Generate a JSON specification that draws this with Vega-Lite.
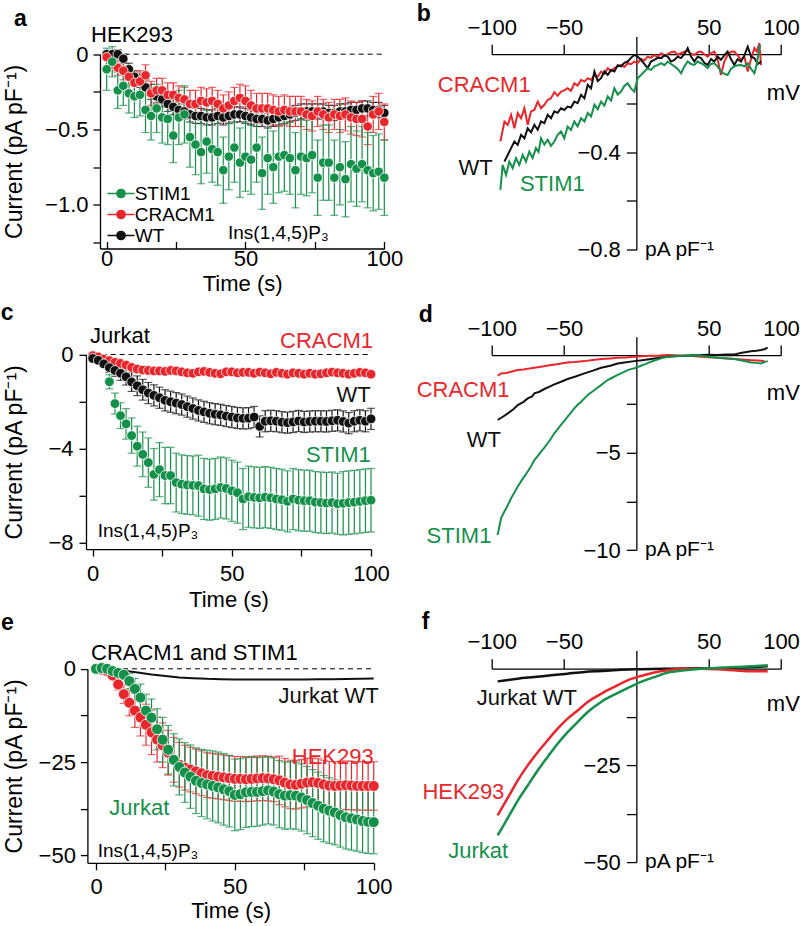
{
"$schema": "https://vega.github.io/schema/vega-lite/v6.json",
"background": "white",
"padding": {"left": 0, "top": 2.5, "right": 0, "bottom": 0},
"autosize": {"type": "pad"},
"bounds": "flush",
"align": "all",
"columns": 2,
"spacing": {"row": 74.3, "column": 106.7},
"resolve": {"scale": {"color": "independent"}, "legend": {"color": "independent"}},
"config": {
  "view": {"stroke": null},
  "font": "Liberation Sans",
  "axis": {"grid": false, "domainColor": "#000", "domainWidth": 1.3, "tickColor": "#000", "tickWidth": 1.3, "labelColor": "#000", "labelFont": "Liberation Sans", "labelFontSize": 22, "titleFont": "Liberation Sans", "titleFontSize": 22, "titleFontWeight": "normal", "titleColor": "#000", "labelFlush": false, "labelOverlap": false, "labelBound": false},
  "text": {"font": "Liberation Sans", "baseline": "alphabetic"}
},
"datasets": {
"a": [
{"s":"WT","t":0,"m":0.0,"e":0.02},{"s":"WT","t":2,"m":0.0,"e":0.02},{"s":"WT","t":4,"m":0.0,"e":0.03},{"s":"WT","t":6,"m":-0.03,"e":0.03},{"s":"WT","t":8,"m":-0.10,"e":0.04},{"s":"WT","t":10,"m":-0.15,"e":0.04},{"s":"WT","t":12,"m":-0.18,"e":0.04},{"s":"WT","t":14,"m":-0.22,"e":0.05},{"s":"WT","t":16,"m":-0.25,"e":0.05},{"s":"WT","t":18,"m":-0.28,"e":0.05},{"s":"WT","t":20,"m":-0.30,"e":0.05},{"s":"WT","t":22,"m":-0.33,"e":0.05},{"s":"WT","t":24,"m":-0.35,"e":0.05},{"s":"WT","t":26,"m":-0.37,"e":0.05},{"s":"WT","t":28,"m":-0.38,"e":0.05},{"s":"WT","t":30,"m":-0.40,"e":0.05},{"s":"WT","t":32,"m":-0.41,"e":0.05},{"s":"WT","t":34,"m":-0.41,"e":0.05},{"s":"WT","t":36,"m":-0.42,"e":0.05},{"s":"WT","t":38,"m":-0.42,"e":0.05},{"s":"WT","t":40,"m":-0.41,"e":0.05},{"s":"WT","t":42,"m":-0.42,"e":0.05},{"s":"WT","t":44,"m":-0.41,"e":0.05},{"s":"WT","t":46,"m":-0.40,"e":0.05},{"s":"WT","t":48,"m":-0.40,"e":0.05},{"s":"WT","t":50,"m":-0.41,"e":0.05},{"s":"WT","t":52,"m":-0.42,"e":0.05},{"s":"WT","t":54,"m":-0.43,"e":0.05},{"s":"WT","t":56,"m":-0.43,"e":0.05},{"s":"WT","t":58,"m":-0.44,"e":0.05},{"s":"WT","t":60,"m":-0.43,"e":0.05},{"s":"WT","t":62,"m":-0.42,"e":0.05},{"s":"WT","t":64,"m":-0.41,"e":0.05},{"s":"WT","t":66,"m":-0.40,"e":0.05},{"s":"WT","t":68,"m":-0.39,"e":0.05},{"s":"WT","t":70,"m":-0.38,"e":0.05},{"s":"WT","t":72,"m":-0.38,"e":0.05},{"s":"WT","t":74,"m":-0.38,"e":0.05},{"s":"WT","t":76,"m":-0.38,"e":0.05},{"s":"WT","t":78,"m":-0.38,"e":0.05},{"s":"WT","t":80,"m":-0.39,"e":0.05},{"s":"WT","t":82,"m":-0.39,"e":0.05},{"s":"WT","t":84,"m":-0.38,"e":0.05},{"s":"WT","t":86,"m":-0.38,"e":0.05},{"s":"WT","t":88,"m":-0.37,"e":0.05},{"s":"WT","t":90,"m":-0.37,"e":0.05},{"s":"WT","t":92,"m":-0.36,"e":0.05},{"s":"WT","t":94,"m":-0.36,"e":0.05},{"s":"WT","t":96,"m":-0.37,"e":0.05},{"s":"WT","t":98,"m":-0.37,"e":0.05},{"s":"WT","t":100,"m":-0.39,"e":0.05},
{"s":"CRACM1","t":0,"m":-0.02,"e":0.02},{"s":"CRACM1","t":2,"m":-0.07,"e":0.04},{"s":"CRACM1","t":4,"m":-0.09,"e":0.05},{"s":"CRACM1","t":6,"m":-0.11,"e":0.06},{"s":"CRACM1","t":8,"m":-0.15,"e":0.06},{"s":"CRACM1","t":10,"m":-0.19,"e":0.07},{"s":"CRACM1","t":12,"m":-0.18,"e":0.07},{"s":"CRACM1","t":14,"m":-0.14,"e":0.07},{"s":"CRACM1","t":16,"m":-0.26,"e":0.08},{"s":"CRACM1","t":18,"m":-0.24,"e":0.08},{"s":"CRACM1","t":20,"m":-0.24,"e":0.08},{"s":"CRACM1","t":22,"m":-0.27,"e":0.08},{"s":"CRACM1","t":24,"m":-0.27,"e":0.08},{"s":"CRACM1","t":26,"m":-0.29,"e":0.08},{"s":"CRACM1","t":28,"m":-0.30,"e":0.08},{"s":"CRACM1","t":30,"m":-0.33,"e":0.09},{"s":"CRACM1","t":32,"m":-0.33,"e":0.09},{"s":"CRACM1","t":34,"m":-0.31,"e":0.09},{"s":"CRACM1","t":36,"m":-0.32,"e":0.09},{"s":"CRACM1","t":38,"m":-0.31,"e":0.09},{"s":"CRACM1","t":40,"m":-0.33,"e":0.09},{"s":"CRACM1","t":42,"m":-0.36,"e":0.09},{"s":"CRACM1","t":44,"m":-0.34,"e":0.09},{"s":"CRACM1","t":46,"m":-0.31,"e":0.09},{"s":"CRACM1","t":48,"m":-0.29,"e":0.09},{"s":"CRACM1","t":50,"m":-0.31,"e":0.1},{"s":"CRACM1","t":52,"m":-0.34,"e":0.1},{"s":"CRACM1","t":54,"m":-0.36,"e":0.1},{"s":"CRACM1","t":56,"m":-0.36,"e":0.1},{"s":"CRACM1","t":58,"m":-0.36,"e":0.1},{"s":"CRACM1","t":60,"m":-0.37,"e":0.1},{"s":"CRACM1","t":62,"m":-0.38,"e":0.1},{"s":"CRACM1","t":64,"m":-0.37,"e":0.1},{"s":"CRACM1","t":66,"m":-0.38,"e":0.1},{"s":"CRACM1","t":68,"m":-0.38,"e":0.1},{"s":"CRACM1","t":70,"m":-0.38,"e":0.1},{"s":"CRACM1","t":72,"m":-0.40,"e":0.1},{"s":"CRACM1","t":74,"m":-0.41,"e":0.1},{"s":"CRACM1","t":76,"m":-0.38,"e":0.1},{"s":"CRACM1","t":78,"m":-0.40,"e":0.1},{"s":"CRACM1","t":80,"m":-0.42,"e":0.1},{"s":"CRACM1","t":82,"m":-0.40,"e":0.1},{"s":"CRACM1","t":84,"m":-0.41,"e":0.11},{"s":"CRACM1","t":86,"m":-0.40,"e":0.11},{"s":"CRACM1","t":88,"m":-0.42,"e":0.11},{"s":"CRACM1","t":90,"m":-0.43,"e":0.11},{"s":"CRACM1","t":92,"m":-0.43,"e":0.12},{"s":"CRACM1","t":94,"m":-0.48,"e":0.12},{"s":"CRACM1","t":96,"m":-0.40,"e":0.12},{"s":"CRACM1","t":98,"m":-0.38,"e":0.12},{"s":"CRACM1","t":100,"m":-0.45,"e":0.12},
{"s":"STIM1","t":0,"m":-0.10,"e":0.14},{"s":"STIM1","t":2,"m":-0.05,"e":0.10},{"s":"STIM1","t":4,"m":-0.24,"e":0.12},{"s":"STIM1","t":6,"m":-0.21,"e":0.13},{"s":"STIM1","t":8,"m":-0.26,"e":0.13},{"s":"STIM1","t":10,"m":-0.28,"e":0.14},{"s":"STIM1","t":12,"m":-0.27,"e":0.14},{"s":"STIM1","t":14,"m":-0.37,"e":0.15},{"s":"STIM1","t":16,"m":-0.41,"e":0.16},{"s":"STIM1","t":18,"m":-0.36,"e":0.16},{"s":"STIM1","t":20,"m":-0.42,"e":0.17},{"s":"STIM1","t":22,"m":-0.43,"e":0.17},{"s":"STIM1","t":24,"m":-0.54,"e":0.18},{"s":"STIM1","t":26,"m":-0.42,"e":0.18},{"s":"STIM1","t":28,"m":-0.40,"e":0.19},{"s":"STIM1","t":30,"m":-0.55,"e":0.2},{"s":"STIM1","t":32,"m":-0.60,"e":0.2},{"s":"STIM1","t":34,"m":-0.65,"e":0.21},{"s":"STIM1","t":36,"m":-0.58,"e":0.21},{"s":"STIM1","t":38,"m":-0.63,"e":0.22},{"s":"STIM1","t":40,"m":-0.65,"e":0.22},{"s":"STIM1","t":42,"m":-0.77,"e":0.22},{"s":"STIM1","t":44,"m":-0.68,"e":0.22},{"s":"STIM1","t":46,"m":-0.62,"e":0.23},{"s":"STIM1","t":48,"m":-0.72,"e":0.23},{"s":"STIM1","t":50,"m":-0.68,"e":0.23},{"s":"STIM1","t":52,"m":-0.70,"e":0.23},{"s":"STIM1","t":54,"m":-0.62,"e":0.23},{"s":"STIM1","t":56,"m":-0.79,"e":0.24},{"s":"STIM1","t":58,"m":-0.69,"e":0.24},{"s":"STIM1","t":60,"m":-0.75,"e":0.24},{"s":"STIM1","t":62,"m":-0.68,"e":0.24},{"s":"STIM1","t":64,"m":-0.67,"e":0.24},{"s":"STIM1","t":66,"m":-0.69,"e":0.24},{"s":"STIM1","t":68,"m":-0.77,"e":0.25},{"s":"STIM1","t":70,"m":-0.68,"e":0.25},{"s":"STIM1","t":72,"m":-0.69,"e":0.25},{"s":"STIM1","t":74,"m":-0.67,"e":0.25},{"s":"STIM1","t":76,"m":-0.82,"e":0.25},{"s":"STIM1","t":78,"m":-0.72,"e":0.25},{"s":"STIM1","t":80,"m":-0.72,"e":0.25},{"s":"STIM1","t":82,"m":-0.82,"e":0.25},{"s":"STIM1","t":84,"m":-0.75,"e":0.25},{"s":"STIM1","t":86,"m":-0.83,"e":0.25},{"s":"STIM1","t":88,"m":-0.73,"e":0.25},{"s":"STIM1","t":90,"m":-0.76,"e":0.25},{"s":"STIM1","t":92,"m":-0.73,"e":0.25},{"s":"STIM1","t":94,"m":-0.77,"e":0.25},{"s":"STIM1","t":96,"m":-0.79,"e":0.25},{"s":"STIM1","t":98,"m":-0.78,"e":0.25},{"s":"STIM1","t":100,"m":-0.82,"e":0.25}
],
"c": [
{"s":"STIM1","t":0,"m":-0.05,"e":0.05},{"s":"STIM1","t":2,"m":-0.10,"e":0.1},{"s":"STIM1","t":4,"m":-0.35,"e":0.15},{"s":"STIM1","t":6,"m":-1.16,"e":0.3},{"s":"STIM1","t":8,"m":-2.09,"e":0.45},{"s":"STIM1","t":10,"m":-2.60,"e":0.55},{"s":"STIM1","t":12,"m":-2.95,"e":0.65},{"s":"STIM1","t":14,"m":-3.45,"e":0.75},{"s":"STIM1","t":16,"m":-3.90,"e":0.85},{"s":"STIM1","t":18,"m":-4.25,"e":0.95},{"s":"STIM1","t":20,"m":-4.60,"e":1.05},{"s":"STIM1","t":22,"m":-5.10,"e":1.1},{"s":"STIM1","t":24,"m":-4.90,"e":1.15},{"s":"STIM1","t":26,"m":-5.15,"e":1.2},{"s":"STIM1","t":28,"m":-5.15,"e":1.2},{"s":"STIM1","t":30,"m":-5.45,"e":1.25},{"s":"STIM1","t":32,"m":-5.52,"e":1.25},{"s":"STIM1","t":34,"m":-5.55,"e":1.25},{"s":"STIM1","t":36,"m":-5.57,"e":1.25},{"s":"STIM1","t":38,"m":-5.58,"e":1.3},{"s":"STIM1","t":40,"m":-5.72,"e":1.3},{"s":"STIM1","t":42,"m":-5.75,"e":1.3},{"s":"STIM1","t":44,"m":-5.72,"e":1.3},{"s":"STIM1","t":46,"m":-5.66,"e":1.3},{"s":"STIM1","t":48,"m":-5.70,"e":1.3},{"s":"STIM1","t":50,"m":-5.80,"e":1.3},{"s":"STIM1","t":52,"m":-5.88,"e":1.3},{"s":"STIM1","t":54,"m":-6.15,"e":1.3},{"s":"STIM1","t":56,"m":-6.05,"e":1.3},{"s":"STIM1","t":58,"m":-6.08,"e":1.3},{"s":"STIM1","t":60,"m":-6.10,"e":1.3},{"s":"STIM1","t":62,"m":-6.07,"e":1.3},{"s":"STIM1","t":64,"m":-6.10,"e":1.3},{"s":"STIM1","t":66,"m":-6.15,"e":1.3},{"s":"STIM1","t":68,"m":-6.18,"e":1.3},{"s":"STIM1","t":70,"m":-6.25,"e":1.3},{"s":"STIM1","t":72,"m":-6.15,"e":1.3},{"s":"STIM1","t":74,"m":-6.20,"e":1.3},{"s":"STIM1","t":76,"m":-6.22,"e":1.3},{"s":"STIM1","t":78,"m":-6.22,"e":1.3},{"s":"STIM1","t":80,"m":-6.28,"e":1.3},{"s":"STIM1","t":82,"m":-6.30,"e":1.3},{"s":"STIM1","t":84,"m":-6.32,"e":1.3},{"s":"STIM1","t":86,"m":-6.30,"e":1.3},{"s":"STIM1","t":88,"m":-6.35,"e":1.3},{"s":"STIM1","t":90,"m":-6.33,"e":1.35},{"s":"STIM1","t":92,"m":-6.30,"e":1.35},{"s":"STIM1","t":94,"m":-6.28,"e":1.35},{"s":"STIM1","t":96,"m":-6.25,"e":1.35},{"s":"STIM1","t":98,"m":-6.22,"e":1.35},{"s":"STIM1","t":100,"m":-6.20,"e":1.35},
{"s":"CRACM1","t":0,"m":-0.05,"e":0.1},{"s":"CRACM1","t":2,"m":-0.10,"e":0.1},{"s":"CRACM1","t":4,"m":-0.20,"e":0.1},{"s":"CRACM1","t":6,"m":-0.26,"e":0.1},{"s":"CRACM1","t":8,"m":-0.33,"e":0.1},{"s":"CRACM1","t":10,"m":-0.38,"e":0.1},{"s":"CRACM1","t":12,"m":-0.45,"e":0.1},{"s":"CRACM1","t":14,"m":-0.55,"e":0.1},{"s":"CRACM1","t":16,"m":-0.62,"e":0.1},{"s":"CRACM1","t":18,"m":-0.66,"e":0.1},{"s":"CRACM1","t":20,"m":-0.68,"e":0.1},{"s":"CRACM1","t":22,"m":-0.70,"e":0.1},{"s":"CRACM1","t":24,"m":-0.70,"e":0.1},{"s":"CRACM1","t":26,"m":-0.72,"e":0.1},{"s":"CRACM1","t":28,"m":-0.68,"e":0.1},{"s":"CRACM1","t":30,"m":-0.70,"e":0.1},{"s":"CRACM1","t":32,"m":-0.74,"e":0.1},{"s":"CRACM1","t":34,"m":-0.78,"e":0.1},{"s":"CRACM1","t":36,"m":-0.80,"e":0.1},{"s":"CRACM1","t":38,"m":-0.74,"e":0.1},{"s":"CRACM1","t":40,"m":-0.72,"e":0.1},{"s":"CRACM1","t":42,"m":-0.76,"e":0.1},{"s":"CRACM1","t":44,"m":-0.80,"e":0.1},{"s":"CRACM1","t":46,"m":-0.82,"e":0.1},{"s":"CRACM1","t":48,"m":-0.74,"e":0.1},{"s":"CRACM1","t":50,"m":-0.74,"e":0.1},{"s":"CRACM1","t":52,"m":-0.78,"e":0.1},{"s":"CRACM1","t":54,"m":-0.76,"e":0.1},{"s":"CRACM1","t":56,"m":-0.76,"e":0.1},{"s":"CRACM1","t":58,"m":-0.80,"e":0.1},{"s":"CRACM1","t":60,"m":-0.75,"e":0.1},{"s":"CRACM1","t":62,"m":-0.78,"e":0.1},{"s":"CRACM1","t":64,"m":-0.82,"e":0.1},{"s":"CRACM1","t":66,"m":-0.76,"e":0.1},{"s":"CRACM1","t":68,"m":-0.80,"e":0.1},{"s":"CRACM1","t":70,"m":-0.84,"e":0.1},{"s":"CRACM1","t":72,"m":-0.78,"e":0.1},{"s":"CRACM1","t":74,"m":-0.80,"e":0.1},{"s":"CRACM1","t":76,"m":-0.84,"e":0.1},{"s":"CRACM1","t":78,"m":-0.80,"e":0.1},{"s":"CRACM1","t":80,"m":-0.84,"e":0.1},{"s":"CRACM1","t":82,"m":-0.82,"e":0.1},{"s":"CRACM1","t":84,"m":-0.78,"e":0.1},{"s":"CRACM1","t":86,"m":-0.75,"e":0.1},{"s":"CRACM1","t":88,"m":-0.78,"e":0.1},{"s":"CRACM1","t":90,"m":-0.80,"e":0.1},{"s":"CRACM1","t":92,"m":-0.84,"e":0.1},{"s":"CRACM1","t":94,"m":-0.80,"e":0.1},{"s":"CRACM1","t":96,"m":-0.76,"e":0.1},{"s":"CRACM1","t":98,"m":-0.78,"e":0.1},{"s":"CRACM1","t":100,"m":-0.84,"e":0.1},
{"s":"WT","t":0,"m":-0.17,"e":0.05},{"s":"WT","t":2,"m":-0.25,"e":0.1},{"s":"WT","t":4,"m":-0.40,"e":0.15},{"s":"WT","t":6,"m":-0.56,"e":0.2},{"s":"WT","t":8,"m":-0.68,"e":0.25},{"s":"WT","t":10,"m":-0.80,"e":0.3},{"s":"WT","t":12,"m":-0.95,"e":0.35},{"s":"WT","t":14,"m":-1.17,"e":0.4},{"s":"WT","t":16,"m":-1.33,"e":0.42},{"s":"WT","t":18,"m":-1.50,"e":0.44},{"s":"WT","t":20,"m":-1.64,"e":0.45},{"s":"WT","t":22,"m":-1.74,"e":0.45},{"s":"WT","t":24,"m":-1.84,"e":0.45},{"s":"WT","t":26,"m":-1.95,"e":0.45},{"s":"WT","t":28,"m":-2.01,"e":0.45},{"s":"WT","t":30,"m":-2.07,"e":0.45},{"s":"WT","t":32,"m":-2.13,"e":0.45},{"s":"WT","t":34,"m":-2.22,"e":0.45},{"s":"WT","t":36,"m":-2.30,"e":0.45},{"s":"WT","t":38,"m":-2.38,"e":0.45},{"s":"WT","t":40,"m":-2.44,"e":0.45},{"s":"WT","t":42,"m":-2.50,"e":0.45},{"s":"WT","t":44,"m":-2.54,"e":0.45},{"s":"WT","t":46,"m":-2.57,"e":0.45},{"s":"WT","t":48,"m":-2.62,"e":0.45},{"s":"WT","t":50,"m":-2.66,"e":0.45},{"s":"WT","t":52,"m":-2.70,"e":0.45},{"s":"WT","t":54,"m":-2.72,"e":0.45},{"s":"WT","t":56,"m":-2.71,"e":0.45},{"s":"WT","t":58,"m":-2.66,"e":0.45},{"s":"WT","t":60,"m":-3.06,"e":0.45},{"s":"WT","t":62,"m":-2.84,"e":0.45},{"s":"WT","t":64,"m":-2.82,"e":0.45},{"s":"WT","t":66,"m":-2.84,"e":0.45},{"s":"WT","t":68,"m":-2.88,"e":0.45},{"s":"WT","t":70,"m":-2.90,"e":0.45},{"s":"WT","t":72,"m":-2.87,"e":0.45},{"s":"WT","t":74,"m":-2.83,"e":0.45},{"s":"WT","t":76,"m":-2.87,"e":0.45},{"s":"WT","t":78,"m":-2.85,"e":0.45},{"s":"WT","t":80,"m":-2.84,"e":0.45},{"s":"WT","t":82,"m":-2.84,"e":0.45},{"s":"WT","t":84,"m":-2.85,"e":0.45},{"s":"WT","t":86,"m":-2.82,"e":0.45},{"s":"WT","t":88,"m":-2.80,"e":0.45},{"s":"WT","t":90,"m":-2.85,"e":0.45},{"s":"WT","t":92,"m":-2.92,"e":0.45},{"s":"WT","t":94,"m":-2.84,"e":0.45},{"s":"WT","t":96,"m":-2.80,"e":0.45},{"s":"WT","t":98,"m":-2.84,"e":0.45},{"s":"WT","t":100,"m":-2.74,"e":0.45}
],
"e": [
{"s":"HEK293","t":0,"m":-0.1,"e":0.3},{"s":"HEK293","t":2,"m":-0.2,"e":0.3},{"s":"HEK293","t":4,"m":-0.6,"e":0.4},{"s":"HEK293","t":6,"m":-1.8,"e":0.8},{"s":"HEK293","t":8,"m":-4.2,"e":1.5},{"s":"HEK293","t":10,"m":-6.8,"e":2.5},{"s":"HEK293","t":12,"m":-9.1,"e":3.5},{"s":"HEK293","t":14,"m":-11.2,"e":4.5},{"s":"HEK293","t":16,"m":-13.0,"e":5},{"s":"HEK293","t":18,"m":-15.0,"e":5.5},{"s":"HEK293","t":20,"m":-17.0,"e":6},{"s":"HEK293","t":22,"m":-19.0,"e":6},{"s":"HEK293","t":24,"m":-20.5,"e":6},{"s":"HEK293","t":26,"m":-22.5,"e":6},{"s":"HEK293","t":28,"m":-24.4,"e":6},{"s":"HEK293","t":30,"m":-25.7,"e":6},{"s":"HEK293","t":32,"m":-26.5,"e":6},{"s":"HEK293","t":34,"m":-27.0,"e":6},{"s":"HEK293","t":36,"m":-27.5,"e":6},{"s":"HEK293","t":38,"m":-28.0,"e":6},{"s":"HEK293","t":40,"m":-28.5,"e":6},{"s":"HEK293","t":42,"m":-28.7,"e":6},{"s":"HEK293","t":44,"m":-28.9,"e":6},{"s":"HEK293","t":46,"m":-29.1,"e":6},{"s":"HEK293","t":48,"m":-29.3,"e":6},{"s":"HEK293","t":50,"m":-29.5,"e":6},{"s":"HEK293","t":52,"m":-29.5,"e":6},{"s":"HEK293","t":54,"m":-29.6,"e":6},{"s":"HEK293","t":56,"m":-29.5,"e":6},{"s":"HEK293","t":58,"m":-29.4,"e":6},{"s":"HEK293","t":60,"m":-29.3,"e":6},{"s":"HEK293","t":62,"m":-29.4,"e":6},{"s":"HEK293","t":64,"m":-29.6,"e":6},{"s":"HEK293","t":66,"m":-29.9,"e":6.5},{"s":"HEK293","t":68,"m":-30.5,"e":6.5},{"s":"HEK293","t":70,"m":-31.0,"e":6.5},{"s":"HEK293","t":72,"m":-31.1,"e":6.5},{"s":"HEK293","t":74,"m":-30.8,"e":6.5},{"s":"HEK293","t":76,"m":-30.5,"e":6.5},{"s":"HEK293","t":78,"m":-30.4,"e":6.5},{"s":"HEK293","t":80,"m":-30.6,"e":6.5},{"s":"HEK293","t":82,"m":-31.0,"e":6.5},{"s":"HEK293","t":84,"m":-31.3,"e":6.5},{"s":"HEK293","t":86,"m":-31.4,"e":6.5},{"s":"HEK293","t":88,"m":-31.3,"e":6.5},{"s":"HEK293","t":90,"m":-31.2,"e":6.5},{"s":"HEK293","t":92,"m":-31.3,"e":6.5},{"s":"HEK293","t":94,"m":-31.4,"e":6.5},{"s":"HEK293","t":96,"m":-31.4,"e":6.5},{"s":"HEK293","t":98,"m":-31.4,"e":6.5},{"s":"HEK293","t":100,"m":-31.4,"e":6.5},
{"s":"Jurkat","t":0,"m":0.0,"e":0.3},{"s":"Jurkat","t":2,"m":0.2,"e":0.3},{"s":"Jurkat","t":4,"m":0.0,"e":0.4},{"s":"Jurkat","t":6,"m":-0.6,"e":0.6},{"s":"Jurkat","t":8,"m":-1.1,"e":0.8},{"s":"Jurkat","t":10,"m":-1.6,"e":1.2},{"s":"Jurkat","t":12,"m":-3.3,"e":2},{"s":"Jurkat","t":14,"m":-5.4,"e":2.8},{"s":"Jurkat","t":16,"m":-7.7,"e":3.6},{"s":"Jurkat","t":18,"m":-11.2,"e":4.4},{"s":"Jurkat","t":20,"m":-13.1,"e":5},{"s":"Jurkat","t":22,"m":-16.2,"e":5.5},{"s":"Jurkat","t":24,"m":-19.0,"e":6},{"s":"Jurkat","t":26,"m":-21.7,"e":6.5},{"s":"Jurkat","t":28,"m":-24.4,"e":7},{"s":"Jurkat","t":30,"m":-26.3,"e":7.5},{"s":"Jurkat","t":32,"m":-27.8,"e":8},{"s":"Jurkat","t":34,"m":-28.9,"e":8.5},{"s":"Jurkat","t":36,"m":-30.0,"e":8.8},{"s":"Jurkat","t":38,"m":-30.6,"e":9},{"s":"Jurkat","t":40,"m":-31.0,"e":9.2},{"s":"Jurkat","t":42,"m":-31.4,"e":9.4},{"s":"Jurkat","t":44,"m":-31.8,"e":9.5},{"s":"Jurkat","t":46,"m":-32.3,"e":9.6},{"s":"Jurkat","t":48,"m":-32.8,"e":9.6},{"s":"Jurkat","t":50,"m":-33.8,"e":9.6},{"s":"Jurkat","t":52,"m":-33.6,"e":9.5},{"s":"Jurkat","t":54,"m":-33.1,"e":9.4},{"s":"Jurkat","t":56,"m":-33.0,"e":9.3},{"s":"Jurkat","t":58,"m":-33.0,"e":9.2},{"s":"Jurkat","t":60,"m":-32.8,"e":9.1},{"s":"Jurkat","t":62,"m":-32.6,"e":9},{"s":"Jurkat","t":64,"m":-32.9,"e":9},{"s":"Jurkat","t":66,"m":-33.6,"e":9},{"s":"Jurkat","t":68,"m":-34.0,"e":9},{"s":"Jurkat","t":70,"m":-33.9,"e":9},{"s":"Jurkat","t":72,"m":-34.0,"e":9},{"s":"Jurkat","t":74,"m":-34.5,"e":9},{"s":"Jurkat","t":76,"m":-35.2,"e":9},{"s":"Jurkat","t":78,"m":-36.0,"e":9},{"s":"Jurkat","t":80,"m":-36.7,"e":9},{"s":"Jurkat","t":82,"m":-37.5,"e":8.9},{"s":"Jurkat","t":84,"m":-38.0,"e":8.8},{"s":"Jurkat","t":86,"m":-38.5,"e":8.7},{"s":"Jurkat","t":88,"m":-39.2,"e":8.6},{"s":"Jurkat","t":90,"m":-39.8,"e":8.5},{"s":"Jurkat","t":92,"m":-40.1,"e":8.5},{"s":"Jurkat","t":94,"m":-40.4,"e":8.5},{"s":"Jurkat","t":96,"m":-40.8,"e":8.5},{"s":"Jurkat","t":98,"m":-41.0,"e":8.5},{"s":"Jurkat","t":100,"m":-41.1,"e":8.5}
],
"eWT": [
{"s":"Jurkat WT","t":0,"m":0},{"s":"Jurkat WT","t":5,"m":-0.1},{"s":"Jurkat WT","t":10,"m":-0.5},{"s":"Jurkat WT","t":15,"m":-1.0},{"s":"Jurkat WT","t":20,"m":-1.5},{"s":"Jurkat WT","t":25,"m":-1.9},{"s":"Jurkat WT","t":30,"m":-2.3},{"s":"Jurkat WT","t":35,"m":-2.5},{"s":"Jurkat WT","t":40,"m":-2.7},{"s":"Jurkat WT","t":45,"m":-2.8},{"s":"Jurkat WT","t":50,"m":-2.9},{"s":"Jurkat WT","t":55,"m":-2.9},{"s":"Jurkat WT","t":60,"m":-2.9},{"s":"Jurkat WT","t":65,"m":-2.9},{"s":"Jurkat WT","t":70,"m":-2.9},{"s":"Jurkat WT","t":75,"m":-2.85},{"s":"Jurkat WT","t":80,"m":-2.8},{"s":"Jurkat WT","t":85,"m":-2.8},{"s":"Jurkat WT","t":90,"m":-2.75},{"s":"Jurkat WT","t":95,"m":-2.7},{"s":"Jurkat WT","t":100,"m":-2.6}
],
"b": [
{"s":"CRACM1","v":-94.0,"i":-0.357},{"s":"CRACM1","v":-91.2,"i":-0.275},{"s":"CRACM1","v":-88.9,"i":-0.289},{"s":"CRACM1","v":-86.6,"i":-0.248},{"s":"CRACM1","v":-84.3,"i":-0.303},{"s":"CRACM1","v":-82.0,"i":-0.241},{"s":"CRACM1","v":-79.7,"i":-0.262},{"s":"CRACM1","v":-77.4,"i":-0.221},{"s":"CRACM1","v":-75.1,"i":-0.289},{"s":"CRACM1","v":-72.8,"i":-0.234},{"s":"CRACM1","v":-70.5,"i":-0.228},{"s":"CRACM1","v":-68.2,"i":-0.194},{"s":"CRACM1","v":-65.9,"i":-0.221},{"s":"CRACM1","v":-63.6,"i":-0.207},{"s":"CRACM1","v":-61.3,"i":-0.187},{"s":"CRACM1","v":-59.0,"i":-0.180},{"s":"CRACM1","v":-56.7,"i":-0.155},{"s":"CRACM1","v":-54.4,"i":-0.170},{"s":"CRACM1","v":-52.1,"i":-0.153},{"s":"CRACM1","v":-49.8,"i":-0.148},{"s":"CRACM1","v":-47.5,"i":-0.139},{"s":"CRACM1","v":-45.2,"i":-0.150},{"s":"CRACM1","v":-42.9,"i":-0.119},{"s":"CRACM1","v":-40.6,"i":-0.128},{"s":"CRACM1","v":-38.2,"i":-0.105},{"s":"CRACM1","v":-35.9,"i":-0.112},{"s":"CRACM1","v":-33.6,"i":-0.098},{"s":"CRACM1","v":-31.3,"i":-0.105},{"s":"CRACM1","v":-29.0,"i":-0.085},{"s":"CRACM1","v":-26.7,"i":-0.092},{"s":"CRACM1","v":-24.4,"i":-0.071},{"s":"CRACM1","v":-22.1,"i":-0.080},{"s":"CRACM1","v":-19.8,"i":-0.057},{"s":"CRACM1","v":-17.5,"i":-0.068},{"s":"CRACM1","v":-15.2,"i":-0.057},{"s":"CRACM1","v":-12.9,"i":-0.050},{"s":"CRACM1","v":-10.6,"i":-0.044},{"s":"CRACM1","v":-8.3,"i":-0.052},{"s":"CRACM1","v":-6.0,"i":-0.037},{"s":"CRACM1","v":-3.7,"i":-0.041},{"s":"CRACM1","v":-1.4,"i":-0.030},{"s":"CRACM1","v":0.9,"i":-0.036},{"s":"CRACM1","v":3.2,"i":-0.019},{"s":"CRACM1","v":5.5,"i":-0.026},{"s":"CRACM1","v":7.8,"i":-0.010},{"s":"CRACM1","v":10.1,"i":-0.015},{"s":"CRACM1","v":12.4,"i":-0.003},{"s":"CRACM1","v":14.7,"i":-0.012},{"s":"CRACM1","v":17.1,"i":0.004},{"s":"CRACM1","v":19.4,"i":-0.006},{"s":"CRACM1","v":21.7,"i":0.0},{"s":"CRACM1","v":24.0,"i":0.008},{"s":"CRACM1","v":26.3,"i":0.011},{"s":"CRACM1","v":28.6,"i":-0.002},{"s":"CRACM1","v":30.9,"i":0.004},{"s":"CRACM1","v":33.2,"i":0.010},{"s":"CRACM1","v":35.5,"i":0.014},{"s":"CRACM1","v":37.8,"i":0.002},{"s":"CRACM1","v":40.1,"i":-0.003},{"s":"CRACM1","v":42.4,"i":0.008},{"s":"CRACM1","v":44.7,"i":0.011},{"s":"CRACM1","v":47.0,"i":0.0},{"s":"CRACM1","v":49.3,"i":-0.010},{"s":"CRACM1","v":51.6,"i":0.004},{"s":"CRACM1","v":53.9,"i":0.011},{"s":"CRACM1","v":56.2,"i":-0.020},{"s":"CRACM1","v":58.5,"i":-0.085},{"s":"CRACM1","v":60.8,"i":-0.030},{"s":"CRACM1","v":63.1,"i":-0.003},{"s":"CRACM1","v":65.4,"i":0.010},{"s":"CRACM1","v":67.7,"i":0.011},{"s":"CRACM1","v":70.0,"i":-0.005},{"s":"CRACM1","v":72.4,"i":-0.023},{"s":"CRACM1","v":74.7,"i":-0.010},{"s":"CRACM1","v":77.0,"i":-0.071},{"s":"CRACM1","v":79.3,"i":-0.020},{"s":"CRACM1","v":81.6,"i":0.025},{"s":"CRACM1","v":83.3,"i":0.010},{"s":"CRACM1","v":85.0,"i":0.045},{"s":"CRACM1","v":86.2,"i":-0.044},
{"s":"WT","v":-91.2,"i":-0.439},{"s":"WT","v":-88.9,"i":-0.412},{"s":"WT","v":-86.6,"i":-0.384},{"s":"WT","v":-84.3,"i":-0.357},{"s":"WT","v":-82.0,"i":-0.371},{"s":"WT","v":-79.7,"i":-0.330},{"s":"WT","v":-77.4,"i":-0.344},{"s":"WT","v":-75.1,"i":-0.303},{"s":"WT","v":-72.8,"i":-0.320},{"s":"WT","v":-70.5,"i":-0.289},{"s":"WT","v":-68.2,"i":-0.309},{"s":"WT","v":-65.9,"i":-0.275},{"s":"WT","v":-63.6,"i":-0.282},{"s":"WT","v":-61.3,"i":-0.248},{"s":"WT","v":-59.0,"i":-0.262},{"s":"WT","v":-56.7,"i":-0.234},{"s":"WT","v":-54.4,"i":-0.240},{"s":"WT","v":-52.1,"i":-0.221},{"s":"WT","v":-49.8,"i":-0.228},{"s":"WT","v":-47.5,"i":-0.214},{"s":"WT","v":-45.2,"i":-0.218},{"s":"WT","v":-42.9,"i":-0.194},{"s":"WT","v":-40.6,"i":-0.200},{"s":"WT","v":-38.2,"i":-0.166},{"s":"WT","v":-35.9,"i":-0.180},{"s":"WT","v":-33.6,"i":-0.125},{"s":"WT","v":-31.3,"i":-0.140},{"s":"WT","v":-29.0,"i":-0.071},{"s":"WT","v":-26.7,"i":-0.110},{"s":"WT","v":-24.4,"i":-0.098},{"s":"WT","v":-22.1,"i":-0.070},{"s":"WT","v":-19.8,"i":-0.085},{"s":"WT","v":-17.5,"i":-0.065},{"s":"WT","v":-15.2,"i":-0.071},{"s":"WT","v":-12.9,"i":-0.045},{"s":"WT","v":-10.6,"i":-0.050},{"s":"WT","v":-8.3,"i":-0.035},{"s":"WT","v":-6.0,"i":-0.030},{"s":"WT","v":-3.7,"i":-0.015},{"s":"WT","v":-1.4,"i":-0.003},{"s":"WT","v":0.9,"i":-0.010},{"s":"WT","v":3.2,"i":-0.023},{"s":"WT","v":5.5,"i":-0.040},{"s":"WT","v":7.8,"i":-0.057},{"s":"WT","v":10.1,"i":-0.030},{"s":"WT","v":12.4,"i":-0.023},{"s":"WT","v":14.7,"i":-0.015},{"s":"WT","v":17.1,"i":-0.016},{"s":"WT","v":19.4,"i":-0.005},{"s":"WT","v":21.7,"i":-0.010},{"s":"WT","v":24.0,"i":-0.030},{"s":"WT","v":26.3,"i":-0.023},{"s":"WT","v":28.6,"i":-0.010},{"s":"WT","v":30.9,"i":-0.016},{"s":"WT","v":33.2,"i":0.000},{"s":"WT","v":35.5,"i":0.025},{"s":"WT","v":37.8,"i":-0.010},{"s":"WT","v":40.1,"i":-0.030},{"s":"WT","v":42.4,"i":-0.010},{"s":"WT","v":44.7,"i":-0.016},{"s":"WT","v":47.0,"i":-0.035},{"s":"WT","v":49.3,"i":-0.044},{"s":"WT","v":51.6,"i":-0.020},{"s":"WT","v":53.9,"i":-0.030},{"s":"WT","v":56.2,"i":-0.010},{"s":"WT","v":58.5,"i":-0.023},{"s":"WT","v":60.8,"i":-0.005},{"s":"WT","v":63.1,"i":0.011},{"s":"WT","v":65.4,"i":-0.020},{"s":"WT","v":67.7,"i":-0.044},{"s":"WT","v":70.0,"i":-0.020},{"s":"WT","v":72.4,"i":-0.030},{"s":"WT","v":74.7,"i":-0.005},{"s":"WT","v":77.0,"i":0.031},{"s":"WT","v":79.3,"i":-0.010},{"s":"WT","v":81.6,"i":-0.016},{"s":"WT","v":84.0,"i":-0.040},{"s":"WT","v":86.2,"i":-0.030},
{"s":"STIM1","v":-94.0,"i":-0.555},{"s":"STIM1","v":-92.4,"i":-0.453},{"s":"STIM1","v":-90.1,"i":-0.494},{"s":"STIM1","v":-87.8,"i":-0.439},{"s":"STIM1","v":-85.5,"i":-0.466},{"s":"STIM1","v":-83.2,"i":-0.425},{"s":"STIM1","v":-80.9,"i":-0.453},{"s":"STIM1","v":-78.6,"i":-0.412},{"s":"STIM1","v":-76.3,"i":-0.439},{"s":"STIM1","v":-74.0,"i":-0.398},{"s":"STIM1","v":-71.7,"i":-0.425},{"s":"STIM1","v":-69.4,"i":-0.384},{"s":"STIM1","v":-67.6,"i":-0.400},{"s":"STIM1","v":-65.9,"i":-0.344},{"s":"STIM1","v":-63.6,"i":-0.370},{"s":"STIM1","v":-61.3,"i":-0.350},{"s":"STIM1","v":-59.0,"i":-0.375},{"s":"STIM1","v":-56.7,"i":-0.357},{"s":"STIM1","v":-54.4,"i":-0.330},{"s":"STIM1","v":-52.1,"i":-0.316},{"s":"STIM1","v":-49.8,"i":-0.344},{"s":"STIM1","v":-47.5,"i":-0.296},{"s":"STIM1","v":-45.2,"i":-0.310},{"s":"STIM1","v":-42.9,"i":-0.275},{"s":"STIM1","v":-40.6,"i":-0.295},{"s":"STIM1","v":-38.2,"i":-0.262},{"s":"STIM1","v":-35.9,"i":-0.275},{"s":"STIM1","v":-33.6,"i":-0.241},{"s":"STIM1","v":-31.3,"i":-0.255},{"s":"STIM1","v":-29.0,"i":-0.207},{"s":"STIM1","v":-26.7,"i":-0.225},{"s":"STIM1","v":-24.4,"i":-0.194},{"s":"STIM1","v":-22.1,"i":-0.210},{"s":"STIM1","v":-19.8,"i":-0.173},{"s":"STIM1","v":-17.5,"i":-0.190},{"s":"STIM1","v":-15.2,"i":-0.139},{"s":"STIM1","v":-12.9,"i":-0.165},{"s":"STIM1","v":-10.6,"i":-0.153},{"s":"STIM1","v":-8.3,"i":-0.130},{"s":"STIM1","v":-6.0,"i":-0.119},{"s":"STIM1","v":-3.7,"i":-0.140},{"s":"STIM1","v":-1.4,"i":-0.153},{"s":"STIM1","v":0.9,"i":-0.098},{"s":"STIM1","v":3.2,"i":-0.085},{"s":"STIM1","v":5.5,"i":-0.071},{"s":"STIM1","v":7.8,"i":-0.057},{"s":"STIM1","v":10.1,"i":-0.065},{"s":"STIM1","v":12.4,"i":-0.050},{"s":"STIM1","v":14.7,"i":-0.045},{"s":"STIM1","v":17.1,"i":-0.037},{"s":"STIM1","v":19.4,"i":-0.045},{"s":"STIM1","v":21.7,"i":-0.030},{"s":"STIM1","v":24.0,"i":-0.040},{"s":"STIM1","v":26.3,"i":-0.050},{"s":"STIM1","v":28.6,"i":-0.060},{"s":"STIM1","v":30.9,"i":-0.078},{"s":"STIM1","v":33.2,"i":-0.050},{"s":"STIM1","v":35.5,"i":-0.030},{"s":"STIM1","v":37.8,"i":-0.040},{"s":"STIM1","v":40.1,"i":-0.044},{"s":"STIM1","v":42.4,"i":-0.030},{"s":"STIM1","v":44.7,"i":-0.037},{"s":"STIM1","v":47.0,"i":-0.045},{"s":"STIM1","v":49.3,"i":-0.057},{"s":"STIM1","v":51.6,"i":-0.040},{"s":"STIM1","v":53.9,"i":-0.037},{"s":"STIM1","v":56.2,"i":-0.050},{"s":"STIM1","v":58.5,"i":-0.071},{"s":"STIM1","v":60.8,"i":-0.080},{"s":"STIM1","v":63.1,"i":-0.085},{"s":"STIM1","v":65.4,"i":-0.060},{"s":"STIM1","v":67.7,"i":-0.050},{"s":"STIM1","v":70.0,"i":-0.045},{"s":"STIM1","v":72.4,"i":-0.044},{"s":"STIM1","v":74.7,"i":-0.050},{"s":"STIM1","v":77.0,"i":-0.037},{"s":"STIM1","v":79.3,"i":-0.060},{"s":"STIM1","v":81.6,"i":-0.078},{"s":"STIM1","v":83.3,"i":-0.040},{"s":"STIM1","v":85.0,"i":0.025},{"s":"STIM1","v":85.7,"i":0.038}
],
"d": [
{"s":"CRACM1","v":-95.9,"i":-1.06},{"s":"CRACM1","v":-93.5,"i":-0.94},{"s":"CRACM1","v":-90,"i":-0.92},{"s":"CRACM1","v":-86,"i":-0.84},{"s":"CRACM1","v":-82.0,"i":-0.77},{"s":"CRACM1","v":-78,"i":-0.74},{"s":"CRACM1","v":-74,"i":-0.69},{"s":"CRACM1","v":-70.5,"i":-0.65},{"s":"CRACM1","v":-66,"i":-0.60},{"s":"CRACM1","v":-62,"i":-0.55},{"s":"CRACM1","v":-59.0,"i":-0.51},{"s":"CRACM1","v":-55,"i":-0.47},{"s":"CRACM1","v":-51,"i":-0.42},{"s":"CRACM1","v":-47.5,"i":-0.38},{"s":"CRACM1","v":-43,"i":-0.36},{"s":"CRACM1","v":-39,"i":-0.33},{"s":"CRACM1","v":-35.9,"i":-0.31},{"s":"CRACM1","v":-30,"i":-0.25},{"s":"CRACM1","v":-24.4,"i":-0.20},{"s":"CRACM1","v":-18,"i":-0.17},{"s":"CRACM1","v":-12.9,"i":-0.14},{"s":"CRACM1","v":-7,"i":-0.12},{"s":"CRACM1","v":-1.4,"i":-0.09},{"s":"CRACM1","v":4,"i":-0.06},{"s":"CRACM1","v":10.1,"i":-0.03},{"s":"CRACM1","v":16,"i":-0.02},{"s":"CRACM1","v":21.7,"i":0.0},{"s":"CRACM1","v":27,"i":-0.01},{"s":"CRACM1","v":33.2,"i":-0.03},{"s":"CRACM1","v":39,"i":-0.05},{"s":"CRACM1","v":44.7,"i":-0.09},{"s":"CRACM1","v":50,"i":-0.11},{"s":"CRACM1","v":56.2,"i":-0.14},{"s":"CRACM1","v":62,"i":-0.17},{"s":"CRACM1","v":67.7,"i":-0.20},{"s":"CRACM1","v":73,"i":-0.23},{"s":"CRACM1","v":79.3,"i":-0.26},{"s":"CRACM1","v":84,"i":-0.28},{"s":"CRACM1","v":88.5,"i":-0.31},
{"s":"WT","v":-95.9,"i":-3.33},{"s":"WT","v":-92,"i":-3.15},{"s":"WT","v":-88.9,"i":-2.99},{"s":"WT","v":-85,"i":-2.78},{"s":"WT","v":-82.0,"i":-2.56},{"s":"WT","v":-78,"i":-2.40},{"s":"WT","v":-75.1,"i":-2.22},{"s":"WT","v":-72,"i":-2.12},{"s":"WT","v":-70.5,"i":-1.96},{"s":"WT","v":-67,"i":-1.88},{"s":"WT","v":-63.6,"i":-1.74},{"s":"WT","v":-60,"i":-1.62},{"s":"WT","v":-56.7,"i":-1.50},{"s":"WT","v":-52,"i":-1.37},{"s":"WT","v":-47.5,"i":-1.23},{"s":"WT","v":-42,"i":-1.10},{"s":"WT","v":-35.9,"i":-0.94},{"s":"WT","v":-30,"i":-0.80},{"s":"WT","v":-24.4,"i":-0.65},{"s":"WT","v":-18,"i":-0.55},{"s":"WT","v":-12.9,"i":-0.43},{"s":"WT","v":-7,"i":-0.37},{"s":"WT","v":-1.4,"i":-0.31},{"s":"WT","v":4,"i":-0.26},{"s":"WT","v":10.1,"i":-0.20},{"s":"WT","v":16,"i":-0.14},{"s":"WT","v":21.7,"i":-0.09},{"s":"WT","v":27,"i":-0.06},{"s":"WT","v":33.2,"i":-0.03},{"s":"WT","v":39,"i":-0.01},{"s":"WT","v":44.7,"i":0.0},{"s":"WT","v":50,"i":0.02},{"s":"WT","v":56.2,"i":0.0},{"s":"WT","v":62,"i":0.03},{"s":"WT","v":67.7,"i":0.03},{"s":"WT","v":73,"i":0.12},{"s":"WT","v":79.3,"i":0.20},{"s":"WT","v":83,"i":0.22},{"s":"WT","v":86.2,"i":0.26},{"s":"WT","v":88.5,"i":0.30},{"s":"WT","v":90.8,"i":0.38},
{"s":"STIM1","v":-95.9,"i":-9.22},{"s":"STIM1","v":-93.5,"i":-8.36},{"s":"STIM1","v":-91.2,"i":-8.02},{"s":"STIM1","v":-88.9,"i":-7.70},{"s":"STIM1","v":-86.6,"i":-7.34},{"s":"STIM1","v":-84.3,"i":-7.05},{"s":"STIM1","v":-82.0,"i":-6.74},{"s":"STIM1","v":-78.6,"i":-6.35},{"s":"STIM1","v":-75.1,"i":-5.97},{"s":"STIM1","v":-72.8,"i":-5.70},{"s":"STIM1","v":-70.5,"i":-5.38},{"s":"STIM1","v":-68.2,"i":-5.18},{"s":"STIM1","v":-65.9,"i":-4.95},{"s":"STIM1","v":-63.6,"i":-4.75},{"s":"STIM1","v":-61.3,"i":-4.52},{"s":"STIM1","v":-59.0,"i":-4.28},{"s":"STIM1","v":-56.7,"i":-4.01},{"s":"STIM1","v":-54.4,"i":-3.80},{"s":"STIM1","v":-52.1,"i":-3.58},{"s":"STIM1","v":-49.8,"i":-3.38},{"s":"STIM1","v":-47.5,"i":-3.16},{"s":"STIM1","v":-45.2,"i":-2.95},{"s":"STIM1","v":-42.9,"i":-2.73},{"s":"STIM1","v":-40.6,"i":-2.55},{"s":"STIM1","v":-38.2,"i":-2.39},{"s":"STIM1","v":-35.9,"i":-2.22},{"s":"STIM1","v":-33.6,"i":-2.05},{"s":"STIM1","v":-31.3,"i":-1.92},{"s":"STIM1","v":-29.0,"i":-1.79},{"s":"STIM1","v":-26.7,"i":-1.66},{"s":"STIM1","v":-24.4,"i":-1.54},{"s":"STIM1","v":-22.1,"i":-1.41},{"s":"STIM1","v":-19.8,"i":-1.28},{"s":"STIM1","v":-16.4,"i":-1.15},{"s":"STIM1","v":-12.9,"i":-1.02},{"s":"STIM1","v":-9.5,"i":-0.90},{"s":"STIM1","v":-6.0,"i":-0.77},{"s":"STIM1","v":-3.7,"i":-0.72},{"s":"STIM1","v":-1.4,"i":-0.68},{"s":"STIM1","v":0.9,"i":-0.62},{"s":"STIM1","v":3.2,"i":-0.55},{"s":"STIM1","v":6.7,"i":-0.45},{"s":"STIM1","v":10.1,"i":-0.34},{"s":"STIM1","v":13.6,"i":-0.25},{"s":"STIM1","v":17.1,"i":-0.17},{"s":"STIM1","v":19.4,"i":-0.12},{"s":"STIM1","v":21.7,"i":-0.09},{"s":"STIM1","v":27,"i":-0.05},{"s":"STIM1","v":33.2,"i":-0.03},{"s":"STIM1","v":39,"i":-0.02},{"s":"STIM1","v":44.7,"i":-0.03},{"s":"STIM1","v":50,"i":-0.08},{"s":"STIM1","v":56.2,"i":-0.14},{"s":"STIM1","v":62,"i":-0.16},{"s":"STIM1","v":67.7,"i":-0.20},{"s":"STIM1","v":73,"i":-0.28},{"s":"STIM1","v":79.3,"i":-0.38},{"s":"STIM1","v":83,"i":-0.40},{"s":"STIM1","v":86.2,"i":-0.43},{"s":"STIM1","v":88.5,"i":-0.36},{"s":"STIM1","v":90.8,"i":-0.31}
],
"f": [
{"s":"Jurkat WT","v":-95.9,"i":-3.28},{"s":"Jurkat WT","v":-82.0,"i":-2.59},{"s":"Jurkat WT","v":-70.5,"i":-2.16},{"s":"Jurkat WT","v":-59.0,"i":-1.72},{"s":"Jurkat WT","v":-47.5,"i":-1.29},{"s":"Jurkat WT","v":-35.9,"i":-0.86},{"s":"Jurkat WT","v":-24.4,"i":-0.60},{"s":"Jurkat WT","v":-12.9,"i":-0.34},{"s":"Jurkat WT","v":-1.4,"i":-0.17},{"s":"Jurkat WT","v":21.7,"i":0.0},{"s":"Jurkat WT","v":44.7,"i":0.09},{"s":"Jurkat WT","v":67.7,"i":0.26},{"s":"Jurkat WT","v":90.8,"i":0.60},
{"s":"HEK293","v":-95.9,"i":-37.9},{"s":"HEK293","v":-91.2,"i":-34.9},{"s":"HEK293","v":-86.6,"i":-31.9},{"s":"HEK293","v":-82.0,"i":-28.9},{"s":"HEK293","v":-75.1,"i":-25.0},{"s":"HEK293","v":-68.2,"i":-21.6},{"s":"HEK293","v":-61.3,"i":-18.5},{"s":"HEK293","v":-54.4,"i":-15.5},{"s":"HEK293","v":-47.5,"i":-12.9},{"s":"HEK293","v":-40.6,"i":-10.8},{"s":"HEK293","v":-33.6,"i":-8.6},{"s":"HEK293","v":-24.4,"i":-6.5},{"s":"HEK293","v":-15.2,"i":-4.7},{"s":"HEK293","v":-6.0,"i":-3.0},{"s":"HEK293","v":3.2,"i":-1.9},{"s":"HEK293","v":12.4,"i":-1.0},{"s":"HEK293","v":21.7,"i":-0.4},{"s":"HEK293","v":33.2,"i":0.0},{"s":"HEK293","v":44.7,"i":0.0},{"s":"HEK293","v":56.2,"i":-0.17},{"s":"HEK293","v":67.7,"i":-0.43},{"s":"HEK293","v":79.3,"i":-0.69},{"s":"HEK293","v":90.8,"i":-0.69},
{"s":"Jurkat","v":-95.9,"i":-43.1},{"s":"Jurkat","v":-91.2,"i":-40.1},{"s":"Jurkat","v":-86.6,"i":-37.1},{"s":"Jurkat","v":-82.0,"i":-34.1},{"s":"Jurkat","v":-75.1,"i":-30.2},{"s":"Jurkat","v":-68.2,"i":-26.3},{"s":"Jurkat","v":-61.3,"i":-22.8},{"s":"Jurkat","v":-54.4,"i":-19.4},{"s":"Jurkat","v":-47.5,"i":-16.4},{"s":"Jurkat","v":-40.6,"i":-13.8},{"s":"Jurkat","v":-33.6,"i":-11.2},{"s":"Jurkat","v":-24.4,"i":-8.6},{"s":"Jurkat","v":-15.2,"i":-6.7},{"s":"Jurkat","v":-6.0,"i":-5.0},{"s":"Jurkat","v":3.2,"i":-3.4},{"s":"Jurkat","v":12.4,"i":-2.2},{"s":"Jurkat","v":21.7,"i":-1.0},{"s":"Jurkat","v":33.2,"i":-0.4},{"s":"Jurkat","v":44.7,"i":0.0},{"s":"Jurkat","v":56.2,"i":0.17},{"s":"Jurkat","v":67.7,"i":0.43},{"s":"Jurkat","v":79.3,"i":0.6},{"s":"Jurkat","v":90.8,"i":0.86}
]
},
"concat": [
{
"width": 298.3, "height": 212,
"layer": [
{"data": {"values": [{"t0": 0, "t1": 100, "z": 0}]},
 "mark": {"type": "rule", "color": "#000", "strokeDash": [5, 4], "strokeWidth": 1},
 "encoding": {
  "x": {"field": "t0", "type": "quantitative", "title": "Time (s)", "scale": {"domain": [-2.4, 100], "range": [14, 298.3], "nice": false, "zero": false}, "axis": {"title": "Time (s)", "values": [0, 25, 50, 75, 100], "format": "d", "labelExpr": "datum.value === 25 || datum.value === 75 ? '' : datum.label", "tickSize": -7, "labelPadding": 7, "titlePadding": 4}},
  "x2": {"field": "t1"},
  "y": {"field": "z", "type": "quantitative", "title": "Current (pA pF⁻¹)", "scale": {"domain": [-1.29, 0], "range": [212, 17.7], "nice": false, "zero": false}, "axis": {"title": "Current (pA pF⁻¹)", "titleFontSize": 23, "values": [0, -0.25, -0.5, -0.75, -1, -1.25], "format": ".1f", "labelExpr": "datum.value === 0 ? '0' : (datum.value === -0.5 || datum.value === -1) ? datum.label : ''", "offset": -14, "tickSize": 7, "labelPadding": 5, "titlePadding": 18}}
 }},
{"data": {"name": "a"},
 "mark": {"type": "errorbar", "ticks": true, "size": 8, "thickness": 1.2},
 "encoding": {
  "x": {"field": "t", "type": "quantitative", "title": "Time (s)", "scale": {"domain": [-2.4, 100], "range": [14, 298.3], "nice": false, "zero": false}},
  "y": {"field": "m", "type": "quantitative", "title": "Current (pA pF⁻¹)", "scale": {"domain": [-1.29, 0], "range": [212, 17.7], "nice": false, "zero": false}},
  "yError": {"field": "e"},
  "color": {"field": "s", "type": "nominal", "scale": {"domain": ["STIM1", "CRACM1", "WT"], "range": ["#14904a", "#e8262b", "#111111"]}}
 }},
{"data": {"name": "a"},
 "mark": {"type": "point", "filled": true, "size": 90, "stroke": "white", "strokeWidth": 0.8, "opacity": 1},
 "encoding": {
  "x": {"field": "t", "type": "quantitative", "title": "Time (s)", "scale": {"domain": [-2.4, 100], "range": [14, 298.3], "nice": false, "zero": false}},
  "y": {"field": "m", "type": "quantitative", "title": "Current (pA pF⁻¹)", "scale": {"domain": [-1.29, 0], "range": [212, 17.7], "nice": false, "zero": false}},
  "color": {"field": "s", "type": "nominal", "scale": {"domain": ["STIM1", "CRACM1", "WT"], "range": ["#14904a", "#e8262b", "#111111"]},
   "legend": {"orient": "none", "legendX": 25, "legendY": 147, "title": null, "symbolType": "M-1.5,0H-0.45M0.45,0H1.5M0.45,0A0.45,0.45,0,1,1,-0.45,0A0.45,0.45,0,1,1,0.45,0Z", "symbolSize": 324, "symbolOpacity": 1, "labelFontSize": 19, "labelFont": "Liberation Sans", "labelColor": "#000", "labelOffset": 3.7, "rowPadding": 1, "padding": 0,
    "encoding": {"symbols": {"fill": {"value": {"expr": "datum.value === 'STIM1' ? '#14904a' : datum.value === 'CRACM1' ? '#e8262b' : '#111111'"}}, "stroke": {"value": {"expr": "datum.value === 'STIM1' ? '#14904a' : datum.value === 'CRACM1' ? '#e8262b' : '#111111'"}}, "strokeWidth": {"value": 1.6}, "opacity": {"value": 1}, "fillOpacity": {"value": 1}, "strokeOpacity": {"value": 1}}}}}
 }},
{"data": {"values": [{"label": "HEK293", "t": -5.6, "y": 0.084}]},
 "mark": {"type": "text", "align": "left", "baseline": "alphabetic", "fontSize": 22, "color": "#000"},
 "encoding": {
  "x": {"field": "t", "type": "quantitative", "title": "Time (s)", "scale": {"domain": [-2.4, 100], "range": [14, 298.3], "nice": false, "zero": false}},
  "y": {"field": "y", "type": "quantitative", "title": "Current (pA pF⁻¹)", "scale": {"domain": [-1.29, 0], "range": [212, 17.7], "nice": false, "zero": false}},
  "text": {"field": "label"}
 }},
{"data": {"values": [{"label": "Ins(1,4,5)P₃", "t": 43.7, "y": -1.224}]},
 "mark": {"type": "text", "align": "left", "baseline": "alphabetic", "fontSize": 19, "color": "#000"},
 "encoding": {
  "x": {"field": "t", "type": "quantitative", "title": "Time (s)", "scale": {"domain": [-2.4, 100], "range": [14, 298.3], "nice": false, "zero": false}},
  "y": {"field": "y", "type": "quantitative", "title": "Current (pA pF⁻¹)", "scale": {"domain": [-1.29, 0], "range": [212, 17.7], "nice": false, "zero": false}},
  "text": {"field": "label"}
 }},
{"data": {"values": [{"label": "a", "t": -33.4, "y": 0.184}]},
 "mark": {"type": "text", "align": "left", "baseline": "alphabetic", "fontSize": 23, "fontWeight": "bold", "color": "#000"},
 "encoding": {
  "x": {"field": "t", "type": "quantitative", "title": "Time (s)", "scale": {"domain": [-2.4, 100], "range": [14, 298.3], "nice": false, "zero": false}},
  "y": {"field": "y", "type": "quantitative", "title": "Current (pA pF⁻¹)", "scale": {"domain": [-1.29, 0], "range": [212, 17.7], "nice": false, "zero": false}},
  "text": {"field": "label"}
 }}
]
},
{
"width": 289.3, "height": 213.3,
"layer": [
{"data": {"name": "b"},
 "mark": {"type": "line", "strokeWidth": 2},
 "encoding": {
  "x": {"field": "v", "type": "quantitative", "title": null, "scale": {"domain": [-100, 100], "nice": false, "zero": false}, "axis": {"orient": "top", "offset": -17.7, "values": [-100, -50, 50, 100], "format": "d", "tickSize": 10, "labelPadding": 5, "title": null}},
  "y": {"field": "i", "type": "quantitative", "title": null, "scale": {"domain": [-0.8, 0.0724], "nice": false, "zero": false}, "axis": {"orient": "left", "offset": -144.65, "values": [-0.2, -0.4, -0.6, -0.8], "format": ".1f", "labelExpr": "datum.value === -0.4 || datum.value === -0.8 ? datum.label : ''", "tickSize": 10, "labelPadding": 6, "title": null}},
  "color": {"field": "s", "type": "nominal", "scale": {"domain": ["STIM1", "CRACM1", "WT"], "range": ["#14904a", "#e8262b", "#111111"]}, "legend": null}
 }},
{"data": {"values": [{"s": "CRACM1", "label": "CRACM1", "v": -137.3, "y": -0.153}, {"s": "WT", "label": "WT", "v": -123, "y": -0.493}, {"s": "STIM1", "label": "STIM1", "v": -80.5, "y": -0.559}]},
 "mark": {"type": "text", "align": "left", "baseline": "alphabetic", "fontSize": 22},
 "encoding": {
  "x": {"field": "v", "type": "quantitative", "title": null, "scale": {"domain": [-100, 100], "nice": false, "zero": false}},
  "y": {"field": "y", "type": "quantitative", "title": null, "scale": {"domain": [-0.8, 0.0724], "nice": false, "zero": false}},
  "color": {"field": "s", "type": "nominal", "scale": {"domain": ["STIM1", "CRACM1", "WT"], "range": ["#14904a", "#e8262b", "#111111"]}, "legend": null},
  "text": {"field": "label"}
 }},
{"data": {"values": [{"label": "mV", "v": 113, "y": -0.187}]},
 "mark": {"type": "text", "align": "right", "baseline": "alphabetic", "fontSize": 22, "color": "#000"},
 "encoding": {
  "x": {"field": "v", "type": "quantitative", "title": null, "scale": {"domain": [-100, 100], "nice": false, "zero": false}},
  "y": {"field": "y", "type": "quantitative", "title": null, "scale": {"domain": [-0.8, 0.0724], "nice": false, "zero": false}},
  "text": {"field": "label"}
 }},
{"data": {"values": [{"label": "pA pF⁻¹", "v": 6, "y": -0.8}]},
 "mark": {"type": "text", "align": "left", "baseline": "middle", "fontSize": 21, "color": "#000"},
 "encoding": {
  "x": {"field": "v", "type": "quantitative", "title": null, "scale": {"domain": [-100, 100], "nice": false, "zero": false}},
  "y": {"field": "y", "type": "quantitative", "title": null, "scale": {"domain": [-0.8, 0.0724], "nice": false, "zero": false}},
  "text": {"field": "label"}
 }},
{"data": {"values": [{"label": "b", "v": -151.9, "y": 0.134}]},
 "mark": {"type": "text", "align": "left", "baseline": "alphabetic", "fontSize": 23, "fontWeight": "bold", "color": "#000"},
 "encoding": {
  "x": {"field": "v", "type": "quantitative", "title": null, "scale": {"domain": [-100, 100], "nice": false, "zero": false}},
  "y": {"field": "y", "type": "quantitative", "title": null, "scale": {"domain": [-0.8, 0.0724], "nice": false, "zero": false}},
  "text": {"field": "label"}
 }}
]
},
{
"width": 285, "height": 212.3,
"layer": [
{"data": {"values": [{"t0": 0, "t1": 100, "z": 0}]},
 "mark": {"type": "rule", "color": "#000", "strokeDash": [5, 4], "strokeWidth": 1},
 "encoding": {
  "x": {"field": "t0", "type": "quantitative", "title": "Time (s)", "scale": {"domain": [-2.4, 100], "nice": false, "zero": false}, "axis": {"title": "Time (s)", "values": [0, 25, 50, 75, 100], "format": "d", "labelExpr": "datum.value === 25 || datum.value === 75 ? '' : datum.label", "tickSize": 7, "labelPadding": 7, "titlePadding": 5}},
  "x2": {"field": "t1"},
  "y": {"field": "z", "type": "quantitative", "title": "Current (pA pF⁻¹)", "scale": {"domain": [-8.28, 0], "range": [212.3, 17.7], "nice": false, "zero": false}, "axis": {"title": "Current (pA pF⁻¹)", "titleFontSize": 23, "values": [0, -2, -4, -6, -8], "format": "d", "labelExpr": "datum.value === -2 || datum.value === -6 ? '' : datum.label", "tickSize": 7, "labelPadding": 6, "titlePadding": 21.3}}
 }},
{"data": {"name": "c"},
 "mark": {"type": "errorbar", "ticks": true, "size": 8, "thickness": 1.2},
 "encoding": {
  "x": {"field": "t", "type": "quantitative", "title": "Time (s)", "scale": {"domain": [-2.4, 100], "nice": false, "zero": false}},
  "y": {"field": "m", "type": "quantitative", "title": "Current (pA pF⁻¹)", "scale": {"domain": [-8.28, 0], "range": [212.3, 17.7], "nice": false, "zero": false}},
  "yError": {"field": "e"},
  "color": {"field": "s", "type": "nominal", "scale": {"domain": ["STIM1", "CRACM1", "WT"], "range": ["#14904a", "#e8262b", "#111111"]}, "legend": null}
 }},
{"data": {"name": "c"},
 "mark": {"type": "point", "filled": true, "size": 95, "stroke": "white", "strokeWidth": 0.8, "opacity": 1},
 "encoding": {
  "x": {"field": "t", "type": "quantitative", "title": "Time (s)", "scale": {"domain": [-2.4, 100], "nice": false, "zero": false}},
  "y": {"field": "m", "type": "quantitative", "title": "Current (pA pF⁻¹)", "scale": {"domain": [-8.28, 0], "range": [212.3, 17.7], "nice": false, "zero": false}},
  "color": {"field": "s", "type": "nominal", "scale": {"domain": ["STIM1", "CRACM1", "WT"], "range": ["#14904a", "#e8262b", "#111111"]}, "legend": null}
 }},
{"data": {"values": [{"s": "CRACM1", "label": "CRACM1", "t": 100.7, "y": 0.26}, {"s": "WT", "label": "WT", "t": 99.9, "y": -2.01}, {"s": "STIM1", "label": "STIM1", "t": 99.9, "y": -4.57}]},
 "mark": {"type": "text", "align": "right", "baseline": "alphabetic", "fontSize": 22},
 "encoding": {
  "x": {"field": "t", "type": "quantitative", "title": "Time (s)", "scale": {"domain": [-2.4, 100], "nice": false, "zero": false}},
  "y": {"field": "y", "type": "quantitative", "title": "Current (pA pF⁻¹)", "scale": {"domain": [-8.28, 0], "range": [212.3, 17.7], "nice": false, "zero": false}},
  "color": {"field": "s", "type": "nominal", "scale": {"domain": ["STIM1", "CRACM1", "WT"], "range": ["#14904a", "#e8262b", "#111111"]}, "legend": null},
  "text": {"field": "label"}
 }},
{"data": {"values": [{"label": "Jurkat", "t": -1, "y": 0.47}]},
 "mark": {"type": "text", "align": "left", "baseline": "alphabetic", "fontSize": 22, "color": "#000"},
 "encoding": {
  "x": {"field": "t", "type": "quantitative", "title": "Time (s)", "scale": {"domain": [-2.4, 100], "nice": false, "zero": false}},
  "y": {"field": "y", "type": "quantitative", "title": "Current (pA pF⁻¹)", "scale": {"domain": [-8.28, 0], "range": [212.3, 17.7], "nice": false, "zero": false}},
  "text": {"field": "label"}
 }},
{"data": {"values": [{"label": "Ins(1,4,5)P₃", "t": 1.8, "y": -7.76}]},
 "mark": {"type": "text", "align": "left", "baseline": "alphabetic", "fontSize": 19, "color": "#000"},
 "encoding": {
  "x": {"field": "t", "type": "quantitative", "title": "Time (s)", "scale": {"domain": [-2.4, 100], "nice": false, "zero": false}},
  "y": {"field": "y", "type": "quantitative", "title": "Current (pA pF⁻¹)", "scale": {"domain": [-8.28, 0], "range": [212.3, 17.7], "nice": false, "zero": false}},
  "text": {"field": "label"}
 }},
{"data": {"values": [{"label": "c", "t": -33, "y": 1.48}]},
 "mark": {"type": "text", "align": "left", "baseline": "alphabetic", "fontSize": 23, "fontWeight": "bold", "color": "#000"},
 "encoding": {
  "x": {"field": "t", "type": "quantitative", "title": "Time (s)", "scale": {"domain": [-2.4, 100], "nice": false, "zero": false}},
  "y": {"field": "y", "type": "quantitative", "title": "Current (pA pF⁻¹)", "scale": {"domain": [-8.28, 0], "range": [212.3, 17.7], "nice": false, "zero": false}},
  "text": {"field": "label"}
 }}
]
},
{
"width": 289.3, "height": 213.3,
"layer": [
{"data": {"name": "d"},
 "mark": {"type": "line", "strokeWidth": 2},
 "encoding": {
  "x": {"field": "v", "type": "quantitative", "title": null, "scale": {"domain": [-100, 100], "nice": false, "zero": false}, "axis": {"orient": "top", "offset": -18.3, "values": [-100, -50, 50, 100], "format": "d", "tickSize": 10, "labelPadding": 5, "title": null}},
  "y": {"field": "i", "type": "quantitative", "title": null, "scale": {"domain": [-10, 0.937], "nice": false, "zero": false}, "axis": {"orient": "left", "offset": -144.65, "values": [-2.5, -5, -7.5, -10], "format": "d", "labelExpr": "datum.value === -5 || datum.value === -10 ? datum.label : ''", "tickSize": 10, "labelPadding": 6, "title": null}},
  "color": {"field": "s", "type": "nominal", "scale": {"domain": ["STIM1", "CRACM1", "WT"], "range": ["#14904a", "#e8262b", "#111111"]}, "legend": null}
 }},
{"data": {"values": [{"s": "CRACM1", "label": "CRACM1", "v": -151.9, "y": -2.13}, {"s": "WT", "label": "WT", "v": -117.3, "y": -4.69}, {"s": "STIM1", "label": "STIM1", "v": -145, "y": -9.65}]},
 "mark": {"type": "text", "align": "left", "baseline": "alphabetic", "fontSize": 22},
 "encoding": {
  "x": {"field": "v", "type": "quantitative", "title": null, "scale": {"domain": [-100, 100], "nice": false, "zero": false}},
  "y": {"field": "y", "type": "quantitative", "title": null, "scale": {"domain": [-10, 0.937], "nice": false, "zero": false}},
  "color": {"field": "s", "type": "nominal", "scale": {"domain": ["STIM1", "CRACM1", "WT"], "range": ["#14904a", "#e8262b", "#111111"]}, "legend": null},
  "text": {"field": "label"}
 }},
{"data": {"values": [{"label": "mV", "v": 113, "y": -2.3}]},
 "mark": {"type": "text", "align": "right", "baseline": "alphabetic", "fontSize": 22, "color": "#000"},
 "encoding": {
  "x": {"field": "v", "type": "quantitative", "title": null, "scale": {"domain": [-100, 100], "nice": false, "zero": false}},
  "y": {"field": "y", "type": "quantitative", "title": null, "scale": {"domain": [-10, 0.937], "nice": false, "zero": false}},
  "text": {"field": "label"}
 }},
{"data": {"values": [{"label": "pA pF⁻¹", "v": 6, "y": -10}]},
 "mark": {"type": "text", "align": "left", "baseline": "middle", "fontSize": 21, "color": "#000"},
 "encoding": {
  "x": {"field": "v", "type": "quantitative", "title": null, "scale": {"domain": [-100, 100], "nice": false, "zero": false}},
  "y": {"field": "y", "type": "quantitative", "title": null, "scale": {"domain": [-10, 0.937], "nice": false, "zero": false}},
  "text": {"field": "label"}
 }},
{"data": {"values": [{"label": "d", "v": -150.5, "y": 1.7}]},
 "mark": {"type": "text", "align": "left", "baseline": "alphabetic", "fontSize": 23, "fontWeight": "bold", "color": "#000"},
 "encoding": {
  "x": {"field": "v", "type": "quantitative", "title": null, "scale": {"domain": [-100, 100], "nice": false, "zero": false}},
  "y": {"field": "y", "type": "quantitative", "title": null, "scale": {"domain": [-10, 0.937], "nice": false, "zero": false}},
  "text": {"field": "label"}
 }}
]
},
{
"width": 287.7, "height": 225.7,
"layer": [
{"data": {"values": [{"t0": 0, "t1": 100, "z": 0}]},
 "mark": {"type": "rule", "color": "#000", "strokeDash": [5, 4], "strokeWidth": 1},
 "encoding": {
  "x": {"field": "t0", "type": "quantitative", "title": "Time (s)", "scale": {"domain": [-3.1, 100], "range": [1.4, 287.7], "nice": false, "zero": false}, "axis": {"title": "Time (s)", "values": [0, 25, 50, 75, 100], "format": "d", "labelExpr": "datum.value === 25 || datum.value === 75 ? '' : datum.label", "tickSize": 7, "labelPadding": 7, "titlePadding": 3}},
  "x2": {"field": "t1"},
  "y": {"field": "z", "type": "quantitative", "title": "Current (pA pF⁻¹)", "scale": {"domain": [-52, 0], "range": [225.7, 31.7], "nice": false, "zero": false}, "axis": {"title": "Current (pA pF⁻¹)", "titleFontSize": 23, "values": [0, -12.5, -25, -37.5, -50], "format": "d", "labelExpr": "datum.value === -12.5 || datum.value === -37.5 ? '' : datum.label", "offset": -1.4, "tickSize": 7, "labelPadding": 5, "titlePadding": 11.6}}
 }},
{"data": {"name": "eWT"},
 "mark": {"type": "line", "strokeWidth": 2},
 "encoding": {
  "x": {"field": "t", "type": "quantitative", "title": "Time (s)", "scale": {"domain": [-3.1, 100], "range": [1.4, 287.7], "nice": false, "zero": false}},
  "y": {"field": "m", "type": "quantitative", "title": "Current (pA pF⁻¹)", "scale": {"domain": [-52, 0], "range": [225.7, 31.7], "nice": false, "zero": false}},
  "color": {"field": "s", "type": "nominal", "scale": {"domain": ["HEK293", "Jurkat", "Jurkat WT"], "range": ["#e8262b", "#14904a", "#111111"]}, "legend": null}
 }},
{"data": {"name": "e"},
 "mark": {"type": "errorbar", "ticks": true, "size": 8, "thickness": 1.2},
 "encoding": {
  "x": {"field": "t", "type": "quantitative", "title": "Time (s)", "scale": {"domain": [-3.1, 100], "range": [1.4, 287.7], "nice": false, "zero": false}},
  "y": {"field": "m", "type": "quantitative", "title": "Current (pA pF⁻¹)", "scale": {"domain": [-52, 0], "range": [225.7, 31.7], "nice": false, "zero": false}},
  "yError": {"field": "e"},
  "color": {"field": "s", "type": "nominal", "scale": {"domain": ["HEK293", "Jurkat", "Jurkat WT"], "range": ["#e8262b", "#14904a", "#111111"]}, "legend": null}
 }},
{"data": {"name": "e"},
 "mark": {"type": "point", "filled": true, "size": 120, "stroke": "white", "strokeWidth": 0.8, "opacity": 1},
 "encoding": {
  "x": {"field": "t", "type": "quantitative", "title": "Time (s)", "scale": {"domain": [-3.1, 100], "range": [1.4, 287.7], "nice": false, "zero": false}},
  "y": {"field": "m", "type": "quantitative", "title": "Current (pA pF⁻¹)", "scale": {"domain": [-52, 0], "range": [225.7, 31.7], "nice": false, "zero": false}},
  "color": {"field": "s", "type": "nominal", "scale": {"domain": ["HEK293", "Jurkat", "Jurkat WT"], "range": ["#e8262b", "#14904a", "#111111"]}, "legend": null}
 }},
{"data": {"values": [{"s": "Jurkat WT", "label": "Jurkat WT", "t": 101.8, "y": -9.1}, {"s": "HEK293", "label": "HEK293", "t": 100, "y": -25.4}]},
 "mark": {"type": "text", "align": "right", "baseline": "alphabetic", "fontSize": 22},
 "encoding": {
  "x": {"field": "t", "type": "quantitative", "title": "Time (s)", "scale": {"domain": [-3.1, 100], "range": [1.4, 287.7], "nice": false, "zero": false}},
  "y": {"field": "y", "type": "quantitative", "title": "Current (pA pF⁻¹)", "scale": {"domain": [-52, 0], "range": [225.7, 31.7], "nice": false, "zero": false}},
  "color": {"field": "s", "type": "nominal", "scale": {"domain": ["HEK293", "Jurkat", "Jurkat WT"], "range": ["#e8262b", "#14904a", "#111111"]}, "legend": null},
  "text": {"field": "label"}
 }},
{"data": {"values": [{"s": "Jurkat", "label": "Jurkat", "t": 4.8, "y": -39.3}]},
 "mark": {"type": "text", "align": "left", "baseline": "alphabetic", "fontSize": 22},
 "encoding": {
  "x": {"field": "t", "type": "quantitative", "title": "Time (s)", "scale": {"domain": [-3.1, 100], "range": [1.4, 287.7], "nice": false, "zero": false}},
  "y": {"field": "y", "type": "quantitative", "title": "Current (pA pF⁻¹)", "scale": {"domain": [-52, 0], "range": [225.7, 31.7], "nice": false, "zero": false}},
  "color": {"field": "s", "type": "nominal", "scale": {"domain": ["HEK293", "Jurkat", "Jurkat WT"], "range": ["#e8262b", "#14904a", "#111111"]}, "legend": null},
  "text": {"field": "label"}
 }},
{"data": {"values": [{"label": "CRACM1 and STIM1", "t": -1.8, "y": 2.25}]},
 "mark": {"type": "text", "align": "left", "baseline": "alphabetic", "fontSize": 22, "color": "#000"},
 "encoding": {
  "x": {"field": "t", "type": "quantitative", "title": "Time (s)", "scale": {"domain": [-3.1, 100], "range": [1.4, 287.7], "nice": false, "zero": false}},
  "y": {"field": "y", "type": "quantitative", "title": "Current (pA pF⁻¹)", "scale": {"domain": [-52, 0], "range": [225.7, 31.7], "nice": false, "zero": false}},
  "text": {"field": "label"}
 }},
{"data": {"values": [{"label": "Ins(1,4,5)P₃", "t": 0.6, "y": -50.4}]},
 "mark": {"type": "text", "align": "left", "baseline": "alphabetic", "fontSize": 19, "color": "#000"},
 "encoding": {
  "x": {"field": "t", "type": "quantitative", "title": "Time (s)", "scale": {"domain": [-3.1, 100], "range": [1.4, 287.7], "nice": false, "zero": false}},
  "y": {"field": "y", "type": "quantitative", "title": "Current (pA pF⁻¹)", "scale": {"domain": [-52, 0], "range": [225.7, 31.7], "nice": false, "zero": false}},
  "text": {"field": "label"}
 }},
{"data": {"values": [{"label": "e", "t": -34.2, "y": 10.4}]},
 "mark": {"type": "text", "align": "left", "baseline": "alphabetic", "fontSize": 23, "fontWeight": "bold", "color": "#000"},
 "encoding": {
  "x": {"field": "t", "type": "quantitative", "title": "Time (s)", "scale": {"domain": [-3.1, 100], "range": [1.4, 287.7], "nice": false, "zero": false}},
  "y": {"field": "y", "type": "quantitative", "title": "Current (pA pF⁻¹)", "scale": {"domain": [-52, 0], "range": [225.7, 31.7], "nice": false, "zero": false}},
  "text": {"field": "label"}
 }}
]
},
{
"width": 289.3, "height": 225,
"layer": [
{"data": {"name": "f"},
 "mark": {"type": "line", "strokeWidth": 2.5, "interpolate": "monotone"},
 "encoding": {
  "x": {"field": "v", "type": "quantitative", "title": null, "scale": {"domain": [-100, 100], "nice": false, "zero": false}, "axis": {"orient": "top", "offset": -31.6, "values": [-100, -50, 50, 100], "format": "d", "tickSize": 10, "labelPadding": 5, "title": null}},
  "y": {"field": "i", "type": "quantitative", "title": null, "scale": {"domain": [-50, 4.7], "range": [225, 13.4], "nice": false, "zero": false}, "axis": {"orient": "left", "offset": -144.65, "values": [-12.5, -25, -37.5, -50], "format": "d", "labelExpr": "datum.value === -25 || datum.value === -50 ? datum.label : ''", "tickSize": 10, "labelPadding": 6, "title": null}},
  "color": {"field": "s", "type": "nominal", "scale": {"domain": ["HEK293", "Jurkat", "Jurkat WT"], "range": ["#e8262b", "#14904a", "#111111"]}, "legend": null}
 }},
{"data": {"values": [{"s": "Jurkat WT", "label": "Jurkat WT", "v": -110.4, "y": -9.3}, {"s": "HEK293", "label": "HEK293", "v": -147.9, "y": -33.6}, {"s": "Jurkat", "label": "Jurkat", "v": -130, "y": -49}]},
 "mark": {"type": "text", "align": "left", "baseline": "alphabetic", "fontSize": 22},
 "encoding": {
  "x": {"field": "v", "type": "quantitative", "title": null, "scale": {"domain": [-100, 100], "nice": false, "zero": false}},
  "y": {"field": "y", "type": "quantitative", "title": null, "scale": {"domain": [-50, 4.7], "range": [225, 13.4], "nice": false, "zero": false}},
  "color": {"field": "s", "type": "nominal", "scale": {"domain": ["HEK293", "Jurkat", "Jurkat WT"], "range": ["#e8262b", "#14904a", "#111111"]}, "legend": null},
  "text": {"field": "label"}
 }},
{"data": {"values": [{"label": "mV", "v": 113, "y": -11}]},
 "mark": {"type": "text", "align": "right", "baseline": "alphabetic", "fontSize": 22, "color": "#000"},
 "encoding": {
  "x": {"field": "v", "type": "quantitative", "title": null, "scale": {"domain": [-100, 100], "nice": false, "zero": false}},
  "y": {"field": "y", "type": "quantitative", "title": null, "scale": {"domain": [-50, 4.7], "range": [225, 13.4], "nice": false, "zero": false}},
  "text": {"field": "label"}
 }},
{"data": {"values": [{"label": "pA pF⁻¹", "v": 6, "y": -50}]},
 "mark": {"type": "text", "align": "left", "baseline": "middle", "fontSize": 21, "color": "#000"},
 "encoding": {
  "x": {"field": "v", "type": "quantitative", "title": null, "scale": {"domain": [-100, 100], "nice": false, "zero": false}},
  "y": {"field": "y", "type": "quantitative", "title": null, "scale": {"domain": [-50, 4.7], "range": [225, 13.4], "nice": false, "zero": false}},
  "text": {"field": "label"}
 }},
{"data": {"values": [{"label": "f", "v": -148.4, "y": 10.3}]},
 "mark": {"type": "text", "align": "left", "baseline": "alphabetic", "fontSize": 23, "fontWeight": "bold", "color": "#000"},
 "encoding": {
  "x": {"field": "v", "type": "quantitative", "title": null, "scale": {"domain": [-100, 100], "nice": false, "zero": false}},
  "y": {"field": "y", "type": "quantitative", "title": null, "scale": {"domain": [-50, 4.7], "range": [225, 13.4], "nice": false, "zero": false}},
  "text": {"field": "label"}
 }}
]
}
]
}
